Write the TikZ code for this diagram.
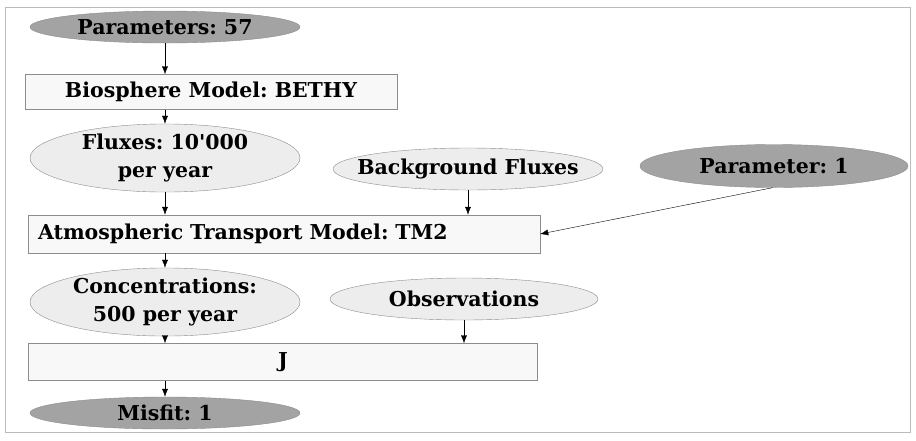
\documentclass[tikz,border=0pt]{standalone}
\usepackage{fontspec}
\newfontfamily\diagfont{DejaVu Serif}
\usetikzlibrary{shapes.geometric,arrows.meta}
\definecolor{darkfill}{HTML}{A3A3A3}
\definecolor{lightfill}{HTML}{EDEDED}
\definecolor{boxfill}{HTML}{F8F8F8}
\definecolor{edgegray}{HTML}{8C8C8C}
\definecolor{framegray}{HTML}{BBBBBB}
\tikzset{
  oval/.style={ellipse, draw=edgegray, fill=lightfill, inner sep=0pt,
    minimum width=270pt, align=center,
    font=\diagfont\bfseries\frenchspacing\fontsize{20.5}{28}\selectfont},
  ovaldark/.style={oval, fill=darkfill},
  modelbox/.style={rectangle, draw=edgegray, fill=boxfill, inner sep=0pt,
    font=\diagfont\bfseries\frenchspacing\fontsize{20.5}{28}\selectfont},
  flow/.style={-{Latex[length=8pt,width=6pt]}, black, thin}
}
\begin{document}
\begin{tikzpicture}[x=1pt,y=-1pt]
        \useasboundingbox (0,0) rectangle (916,440);
        \draw[framegray] (5,7) rectangle (910,432);
        % top part: biosphere
        \node[ovaldark, minimum height=32pt] (par57) at (165,27) {Parameters: 57};
        \node[modelbox, minimum width=372pt, minimum height=35pt] (bethy) at (211,92) {Biosphere Model: BETHY};
        \node[oval, minimum height=68pt] (fluxes) at (165,158) {Fluxes: 10'000\\per year};
        \node[oval, inner xsep=-16pt, minimum height=42pt] (bgflux) at (468,169) {Background Fluxes};
        \node[ovaldark, minimum width=268pt, minimum height=43pt] (par1) at (774,166) {Parameter: 1};
        % transport
        \node[modelbox, text width=492pt, align=left, inner xsep=10pt, minimum height=38pt] (tm2) at (284,234) {Atmospheric Transport Model: TM2};
        \node[oval, minimum height=64pt] (conc) at (165,302) {Concentrations:\\500 per year};
        \node[oval, minimum width=268pt, minimum height=42pt] (obs) at (464,299) {Observations};
        % cost function
        \node[modelbox, minimum width=509pt, minimum height=37pt] (cost) at (283,362) {J};
        \node[ovaldark, minimum height=32pt] (misfit) at (165,413) {Misfit: 1};
        % arrows
        \draw[flow] (par57.south) -- (par57.south |- bethy.north);
        \draw[flow] (par57.south |- bethy.south) -- (fluxes.north);
        \draw[flow] (fluxes.south) -- (fluxes.south |- tm2.north);
        \draw[flow] (bgflux.south) -- (bgflux.south |- tm2.north);
        \draw[flow] (par1.-94) -- (tm2.east);
        \draw[flow] (fluxes.south |- tm2.south) -- (conc.north);
        \draw[flow] (conc.south) -- (conc.south |- cost.north);
        \draw[flow] (obs.south) -- (obs.south |- cost.north);
        \draw[flow] (conc.south |- cost.south) -- (misfit.north);
\end{tikzpicture}
\end{document}
